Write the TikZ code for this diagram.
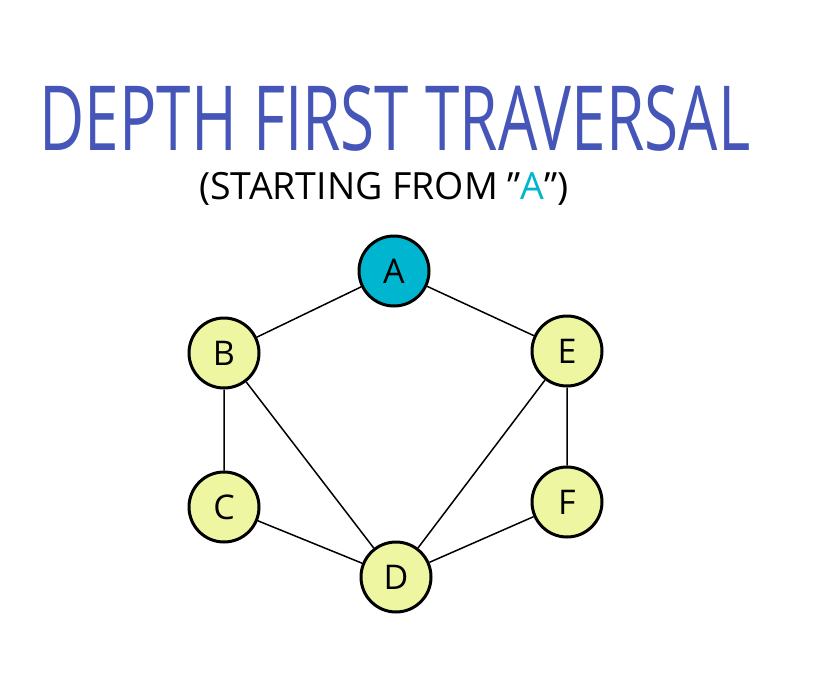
\documentclass[tikz,border=0pt]{standalone}
\usepackage{fontspec}
\setmainfont{Open Sans}
\usepackage{graphicx}
\definecolor{titleblue}{HTML}{4656B8}
\definecolor{cyanA}{HTML}{00B5CF}
\definecolor{yel}{HTML}{EEF6A2}
\tikzset{vert/.style={circle,draw=black,line width=3pt,minimum size=70pt,inner sep=0pt,fill=yel,font=\fontsize{34}{34}\selectfont},
edge/.style={line width=1.5pt}}
\begin{document}
\begin{tikzpicture}[x=1pt,y=-1pt]
\useasboundingbox (0,0) rectangle (830,694);
\node[inner sep=0pt,text=titleblue] (title) at (395,118) {\resizebox{710pt}{65pt}{\fontspec{Open Sans}[FakeStretch=0.6]DEPTH FIRST TRAVERSAL}};
\node[inner sep=0pt,font=\fontsize{37.5}{38}\selectfont] (sub) at (384,189) {(STARTING FROM \symbol{34}\textcolor{cyanA}{A}\symbol{34})};
\node[vert,fill=cyanA] (A) at (394,271) {A};
\node[vert] (B) at (224,353) {B};
\node[vert] (E) at (567,351) {E};
\node[vert] (C) at (224,507) {C};
\node[vert] (F) at (567,502) {F};
\node[vert] (D) at (396,577) {D};
\draw[edge] (A)--(B) (A)--(E) (B)--(C) (B)--(D) (C)--(D) (E)--(D) (E)--(F) (F)--(D);
\end{tikzpicture}
\end{document}
